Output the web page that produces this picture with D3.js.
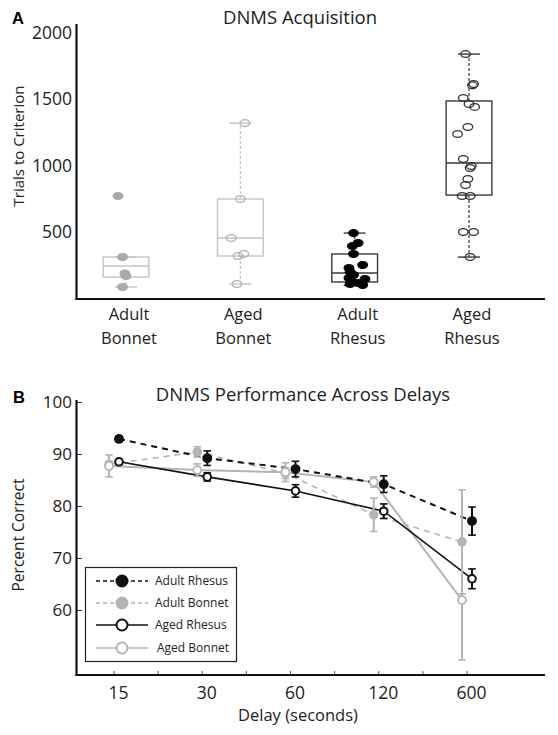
<!DOCTYPE html>
<html><head><meta charset="utf-8">
<script src="https://cdn.jsdelivr.net/npm/d3@7"></script>
<style>
body{margin:0;background:#fff;}
svg{display:block;font-family:"Open Sans",sans-serif;}
</style></head>
<body><svg id="c" width="558" height="735"></svg>
<script>
// ---------- Panel A data ----------
const groupsA = ["Adult Bonnet", "Aged Bonnet", "Adult Rhesus", "Aged Rhesus"];
const groupLinesA = [["Adult","Bonnet"],["Aged","Bonnet"],["Adult","Rhesus"],["Aged","Rhesus"]];
const q1A = [158, 317, 121, 777];
const medianA = [241, 453, 189, 1019];
const q3A = [309, 747, 332, 1487];
const whiskLowA = [83, 106, 95, 309];
const whiskHighA = [309, 1320, 490, 1841];
const adultBonnetTrials = [770, 309, 185, 165, 83];
const adultBonnetJitter = [-0.07, -0.03, -0.01, 0.0, -0.03];
const agedBonnetTrials = [1320, 747, 453, 332, 317, 106];
const agedBonnetJitter = [0.04, 0.0, -0.08, 0.03, -0.02, -0.03];
const adultRhesusTrials = [490, 415, 392, 332, 249, 226, 196, 174, 151, 143, 121, 113, 106, 98];
const adultRhesusJitter = [-0.01, 0.03, -0.02, -0.01, 0.07, -0.05, -0.04, -0.01, -0.05, 0.09, -0.02, 0.03, -0.04, 0.07];
const agedRhesusTrials = [1841, 1615, 1605, 1509, 1464, 1442, 1291, 1238, 1049, 996, 981, 898, 853, 770, 770, 498, 498, 309];
const agedRhesusJitter = [-0.03, 0.04, 0.03, -0.05, 0.0, 0.05, -0.01, -0.1, -0.05, 0.02, 0.01, -0.01, -0.03, -0.06, 0.01, -0.05, 0.04, 0.01];
const ticksA = [500, 1000, 1500, 2000];

// ---------- Panel B data ----------
const delays = ["15", "30", "60", "120", "600"];
const adultRhesusPct = [92.9, 89.2, 87.1, 84.2, 77.1];
const adultRhesusErr = [0.5, 1.4, 1.5, 1.6, 2.7];
const adultBonnetPct = [88.0, 90.4, 86.3, 78.3, 73.1];
const adultBonnetErr = [0.6, 1.0, 1.0, 3.2, 10.0];
const agedRhesusPct = [88.5, 85.6, 82.9, 79.0, 66.0];
const agedRhesusErr = [0.5, 0.8, 1.2, 1.4, 1.9];
const agedBonnetPct = [87.7, 86.9, 86.5, 84.6, 61.9];
const agedBonnetErr = [2.1, 1.2, 1.8, 1.0, 11.5];
const ticksB = [60, 70, 80, 90, 100];
const seriesNames = ["Adult Rhesus", "Adult Bonnet", "Aged Rhesus", "Aged Bonnet"];

const svg = d3.select("#c");
const BLACK = "#111", GRAY = "#b4b4b4", TXT = "#222";

// ================= PANEL A =================
const xA = d3.scalePoint().domain(groupsA).range([126, 469]);
const yA = d3.scaleLinear().domain([0, 2000]).range([298, 33]);
const stepA = xA.step();
const boxW = stepA * 0.4;

svg.append("text").attr("x", 12).attr("y", 24).attr("font-size", 16.5).attr("font-weight", "bold")
  .attr("font-family", "Arial, Liberation Sans, sans-serif").text("A");
svg.append("text").attr("x", 300).attr("y", 24).attr("text-anchor", "middle").attr("font-size", 18.5)
  .attr("fill", TXT).text("DNMS Acquisition");

svg.append("line").attr("x1", 76.5).attr("x2", 76.5).attr("y1", 24).attr("y2", 300).attr("stroke", BLACK).attr("stroke-width", 2.2);
svg.append("line").attr("x1", 75.5).attr("x2", 545).attr("y1", 299).attr("y2", 299).attr("stroke", BLACK).attr("stroke-width", 2.2);

const axA = d3.axisLeft(yA).tickValues(ticksA).tickFormat(d3.format("d")).tickSize(0).tickPadding(0);
const gAx = svg.append("g").attr("transform", "translate(72,0)").call(axA);
gAx.select(".domain").remove();
gAx.selectAll("text").attr("font-size", 17.5).attr("fill", TXT).attr("font-family", "Open Sans, sans-serif");

svg.append("text").attr("transform", "translate(24,146) rotate(-90)").attr("text-anchor", "middle")
  .attr("font-size", 15).attr("fill", TXT).text("Trials to Criterion");

groupsA.forEach((g, i) => {
  const t = svg.append("text").attr("x", xA(g)).attr("y", 320).attr("text-anchor", "middle")
    .attr("font-size", 16.5).attr("fill", TXT);
  t.append("tspan").attr("x", xA(g) + 3).attr("dy", 0).text(groupLinesA[i][0]);
  t.append("tspan").attr("x", xA(g) + 3).attr("dy", 24).text(groupLinesA[i][1]);
});

const boxColor = ["#c4c4c4", "#c4c4c4", "#3a3a3a", "#3a3a3a"];
groupsA.forEach((g, i) => {
  const cx = xA(g), col = boxColor[i];
  const gg = svg.append("g");
  gg.append("line").attr("x1", cx).attr("x2", cx).attr("y1", yA(q3A[i])).attr("y2", yA(whiskHighA[i]))
    .attr("stroke", col).attr("stroke-width", 1.2).attr("stroke-dasharray", "3,2");
  gg.append("line").attr("x1", cx).attr("x2", cx).attr("y1", yA(q1A[i])).attr("y2", yA(whiskLowA[i]))
    .attr("stroke", col).attr("stroke-width", 1.2).attr("stroke-dasharray", "3,2");
  [whiskHighA[i], whiskLowA[i]].forEach(v => {
    gg.append("line").attr("x1", cx - 11).attr("x2", cx + 11).attr("y1", yA(v)).attr("y2", yA(v))
      .attr("stroke", col).attr("stroke-width", 1.4);
  });
  gg.append("rect").attr("x", cx - boxW / 2).attr("y", yA(q3A[i])).attr("width", boxW)
    .attr("height", yA(q1A[i]) - yA(q3A[i])).attr("fill", "none").attr("stroke", col).attr("stroke-width", 1.4);
  gg.append("line").attr("x1", cx - boxW / 2).attr("x2", cx + boxW / 2).attr("y1", yA(medianA[i])).attr("y2", yA(medianA[i]))
    .attr("stroke", col).attr("stroke-width", 1.4);
});

const pointSets = [
  {vals: adultBonnetTrials, jit: adultBonnetJitter, fill: "#a9a9a9", stroke: "#a9a9a9"},
  {vals: agedBonnetTrials, jit: agedBonnetJitter, fill: "none", stroke: "#b0b0b0"},
  {vals: adultRhesusTrials, jit: adultRhesusJitter, fill: "#000", stroke: "#000"},
  {vals: agedRhesusTrials, jit: agedRhesusJitter, fill: "none", stroke: "#333"}
];
pointSets.forEach((ps, i) => {
  svg.append("g").selectAll("ellipse").data(ps.vals).join("ellipse")
    .attr("cx", (d, j) => xA(groupsA[i]) + ps.jit[j] * stepA)
    .attr("cy", d => yA(d)).attr("rx", 4.8).attr("ry", 3.4)
    .attr("fill", ps.fill).attr("stroke", ps.stroke).attr("stroke-width", 1.3);
});

// ================= PANEL B =================
const xB = d3.scalePoint().domain(delays).range([114, 467]);
const yB = d3.scaleLinear().domain([47.5, 100]).range([675, 402]);
const stepB = xB.step();

svg.append("text").attr("x", 13).attr("y", 403).attr("font-size", 16.5).attr("font-weight", "bold")
  .attr("font-family", "Arial, Liberation Sans, sans-serif").text("B");
svg.append("text").attr("x", 303).attr("y", 401).attr("text-anchor", "middle").attr("font-size", 18.5)
  .attr("fill", TXT).text("DNMS Performance Across Delays");

svg.append("line").attr("x1", 76.5).attr("x2", 76.5).attr("y1", 400).attr("y2", 676).attr("stroke", BLACK).attr("stroke-width", 2.2);
svg.append("line").attr("x1", 75.5).attr("x2", 545).attr("y1", 675).attr("y2", 675).attr("stroke", BLACK).attr("stroke-width", 2.2);

const axBy = d3.axisRight(yB).tickValues(ticksB).tickSize(5).tickPadding(0);
const gBy = svg.append("g").attr("transform", "translate(77,0)").call(axBy);
gBy.select(".domain").remove();
gBy.selectAll("line").attr("stroke", "#333").attr("stroke-width", 1);
gBy.selectAll("text").attr("text-anchor", "end").attr("x", -5).attr("font-size", 17).attr("fill", TXT)
  .attr("font-family", "Open Sans, sans-serif");

const tickPos = [];
delays.forEach((d, i) => { tickPos.push(xB(d)); if (i < delays.length - 1) tickPos.push(xB(d) + stepB / 2); });
svg.append("g").selectAll("line").data(tickPos).join("line")
  .attr("x1", d => d).attr("x2", d => d).attr("y1", 674).attr("y2", 671).attr("stroke", "#555").attr("stroke-width", 1);
const axBx = d3.axisBottom(xB).tickSize(0).tickPadding(12);
const gBx = svg.append("g").attr("transform", "translate(4,675)").call(axBx);
gBx.select(".domain").remove();
gBx.selectAll("text").attr("font-size", 17.5).attr("fill", TXT).attr("font-family", "Open Sans, sans-serif");

svg.append("text").attr("x", 298).attr("y", 721).attr("text-anchor", "middle").attr("font-size", 16.5)
  .attr("fill", TXT).text("Delay (seconds)");
svg.append("text").attr("transform", "translate(24,535) rotate(-90)").attr("text-anchor", "middle")
  .attr("font-size", 15.5).attr("fill", TXT).text("Percent Correct");

const series = [
  {name: seriesNames[3], vals: agedBonnetPct, err: agedBonnetErr, color: GRAY, dash: null, fill: "#fff", off: -5, lw: 2, r: 4, sw: 1.8},
  {name: seriesNames[1], vals: adultBonnetPct, err: adultBonnetErr, color: GRAY, dash: "6,5", fill: GRAY, off: -5, lw: 1.6, r: 4, sw: 1.5},
  {name: seriesNames[2], vals: agedRhesusPct, err: agedRhesusErr, color: BLACK, dash: null, fill: "#fff", off: 5, lw: 1.6, r: 3.8, sw: 2},
  {name: seriesNames[0], vals: adultRhesusPct, err: adultRhesusErr, color: BLACK, dash: "6,5", fill: BLACK, off: 5, lw: 2, r: 4.2, sw: 1.5}
];
const drawOrder = [1, 0, 2, 3];
drawOrder.forEach(k => {
  const s = series[k];
  const line = d3.line().x((d, i) => xB(delays[i]) + s.off).y(d => yB(d));
  svg.append("path").datum(s.vals).attr("d", line).attr("fill", "none").attr("stroke", s.color)
    .attr("stroke-width", s.lw).attr("stroke-dasharray", s.dash);
});
drawOrder.forEach(k => {
  const s = series[k];
  const g = svg.append("g");
  s.vals.forEach((v, i) => {
    const x = xB(delays[i]) + s.off;
    const ec = s.color;
    g.append("line").attr("x1", x).attr("x2", x).attr("y1", yB(v + s.err[i])).attr("y2", yB(v - s.err[i]))
      .attr("stroke", ec).attr("stroke-width", 2);
    [v + s.err[i], v - s.err[i]].forEach(e => {
      g.append("line").attr("x1", x - 3.8).attr("x2", x + 3.8).attr("y1", yB(e)).attr("y2", yB(e))
        .attr("stroke", ec).attr("stroke-width", 1.6);
    });
    g.append("circle").attr("cx", x).attr("cy", yB(v)).attr("r", s.r)
      .attr("fill", s.fill).attr("stroke", s.color).attr("stroke-width", s.sw);
  });
});

// legend
const leg = svg.append("g");
leg.append("rect").attr("x", 85.5).attr("y", 567.5).attr("width", 151).attr("height", 94)
  .attr("fill", "#fff").attr("stroke", "#222").attr("stroke-width", 1.2);
const legRows = [
  {s: series[3], y: 581, tx: 155},
  {s: series[1], y: 603, tx: 155},
  {s: series[2], y: 625, tx: 155},
  {s: series[0], y: 648, tx: 157}
];
legRows.forEach(r => {
  leg.append("line").attr("x1", 96).attr("x2", 148).attr("y1", r.y).attr("y2", r.y)
    .attr("stroke", r.s.color).attr("stroke-width", 1.3).attr("stroke-dasharray", r.s.dash ? "4,3" : null);
  leg.append("circle").attr("cx", 122).attr("cy", r.y).attr("r", 5.5)
    .attr("fill", r.s.fill).attr("stroke", r.s.color).attr("stroke-width", 2);
  leg.append("text").attr("x", r.tx).attr("y", r.y + 4).attr("font-size", 12).attr("fill", TXT)
    .text(r.s.name);
});
</script>
</body></html>
